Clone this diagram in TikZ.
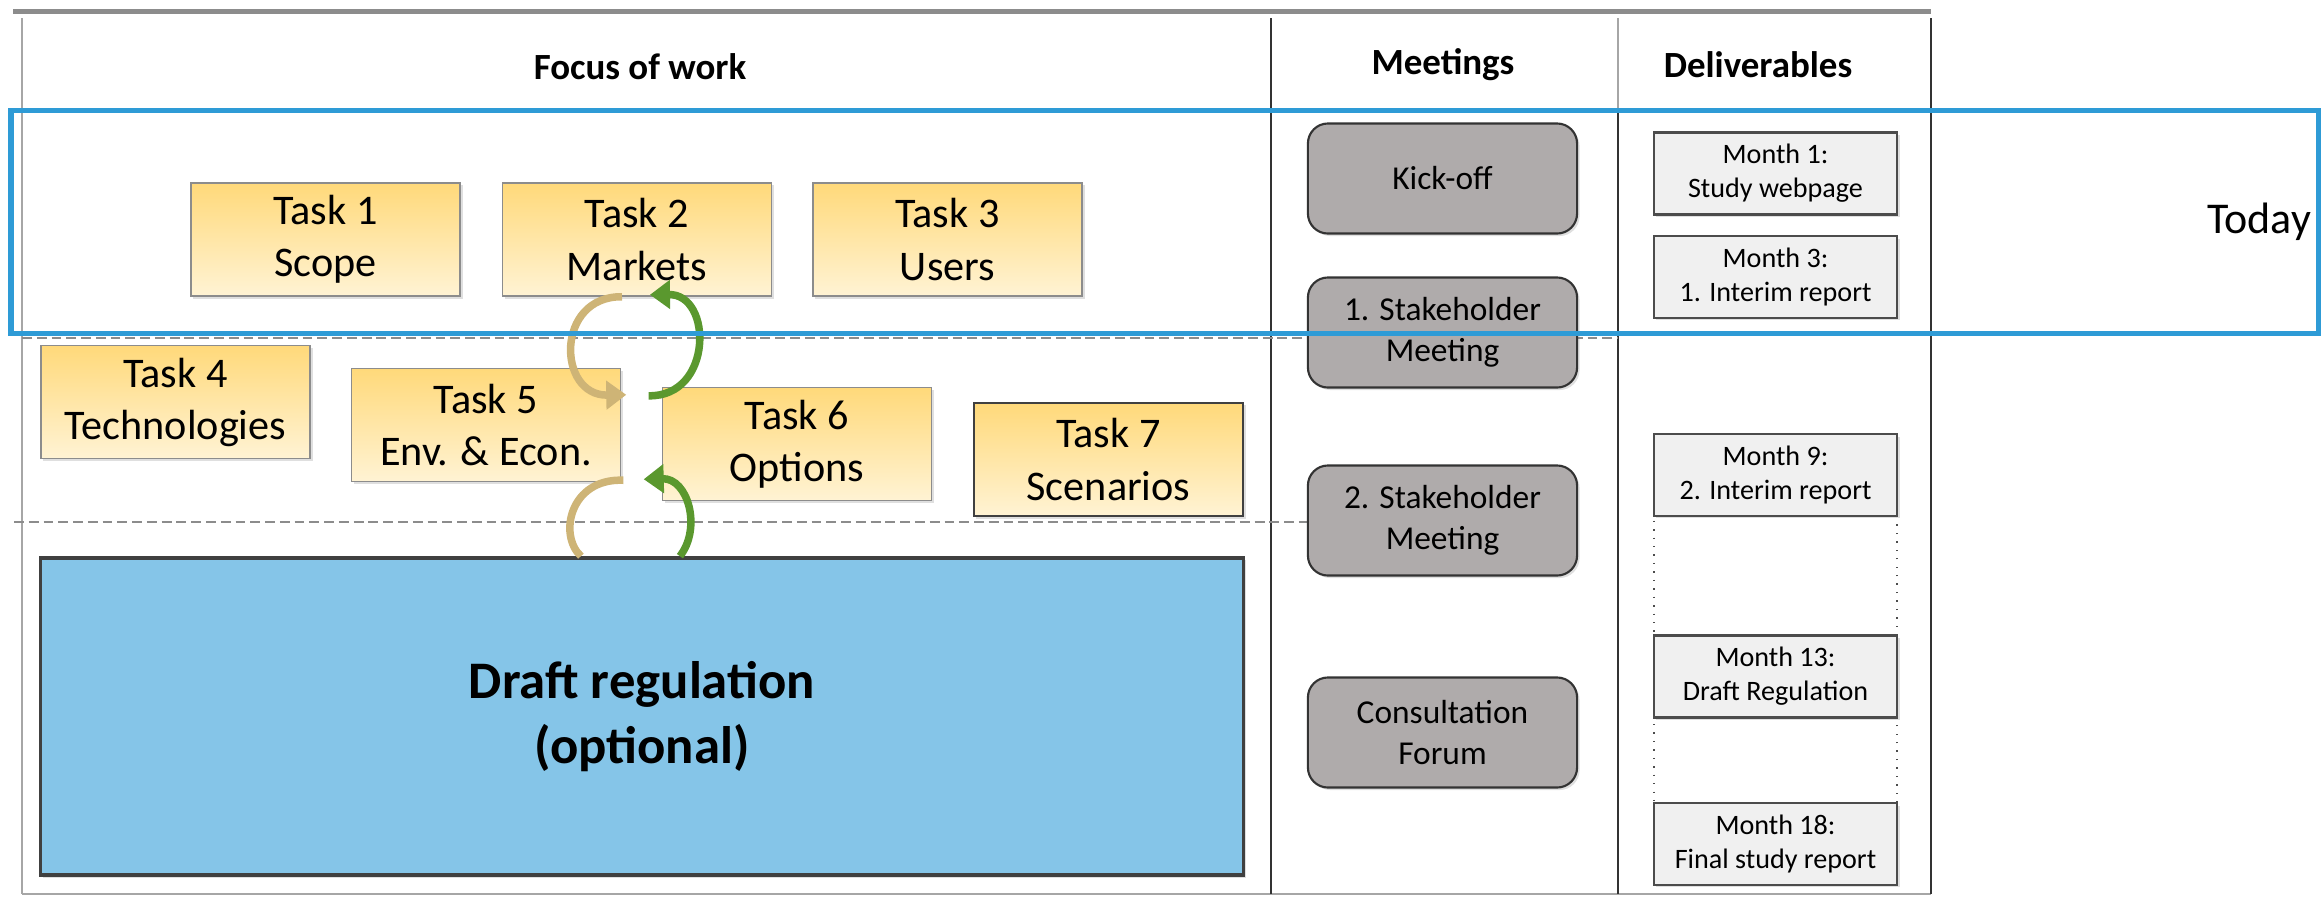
\documentclass[tikz,border=0pt]{standalone}
\usepackage{fontspec}
\setmainfont{Carlito}
\usetikzlibrary{calc,shadows,arrows.meta}
\definecolor{taskyellow}{RGB}{255,217,122}
\definecolor{tasklight}{RGB}{255,243,212}
\definecolor{meetgray}{RGB}{175,171,171}
\definecolor{delivgray}{RGB}{240,240,240}
\definecolor{draftblue}{RGB}{133,197,232}
\definecolor{todayblue}{RGB}{46,155,214}
\definecolor{loopgreen}{RGB}{90,152,46}
\definecolor{looptan}{RGB}{206,180,118}

\begin{document}
\begin{tikzpicture}[x=0.01cm, y=-0.01cm,
    softshadow/.style={drop shadow={shadow xshift=0.025cm, shadow yshift=-0.025cm, opacity=0.25}},
    taskbox/.style={draw=black!45, top color=taskyellow, bottom color=tasklight, softshadow,
      minimum width=2.69cm, minimum height=1.13cm, align=center, font=\fontsize{12}{14.8}\selectfont},
    meetbox/.style={draw=black!80, line width=0.6pt, fill=meetgray, rounded corners=0.2cm, softshadow,
      minimum width=2.69cm, minimum height=1.1cm, align=center, font=\fontsize{9.5}{11.7}\selectfont},
    delivbox/.style={draw=black!70, line width=0.6pt, fill=delivgray, softshadow,
      minimum width=2.43cm, align=center, font=\fontsize{8}{9.7}\selectfont},
    gapbox/.style={draw=black!70, dotted, fill=white, minimum width=2.43cm},
    header/.style={font=\fontsize{10.5}{12}\selectfont\bfseries},
    loop/.style={line width=0.075cm, -{Triangle[length=0.2cm, width=0.28cm]}}]
    \useasboundingbox (0,0) rectangle (2323,896);

    % Draw the table frame
    \draw[black!45, line width=0.05cm] (13,11) -- (1931,11);
    \draw[black!35, line width=0.5pt] (22,18) -- (22,894);
    \draw[black!35, line width=0.5pt] (22,894) -- (1931,894);
    \draw[black!80, line width=0.7pt] (1271,18) -- (1271,894);
    \draw[black!35, line width=0.5pt] (1618,18) -- (1618,110);
    \draw[black!80, line width=0.7pt] (1618,110) -- (1618,894);
    \draw[black!80, line width=0.7pt] (1931,18) -- (1931,894);

    % Draw the dashed separators
    \draw[black!45, dash pattern=on 2.8pt off 1.4pt] (22,338) -- (1618,338);
    \draw[black!45, dash pattern=on 2.8pt off 1.4pt] (14,522) -- (1310,522);

    % Column headers
    \node[header] (focus) at (640,67) {Focus of work};
    \node[header] (meet) at (1443,65) {Meetings};
    \node[header] (deliv) at (1758,65) {Deliverables};

    % Tasks
    \node[taskbox] (task1) at (325.5,239.5) {Task 1\\Scope};
    \node[taskbox] (task2) at (637,239.5) {Task 2\\Markets};
    \node[taskbox] (task3) at (947.5,239.5) {Task 3\\Users};
    \node[taskbox] (task4) at (175.5,402) {Task 4\\Technologies};
    \node[taskbox] (task5) at (486,425) {Task 5\\Env. \& Econ.};
    \node[taskbox] (task6) at (797,444) {Task 6\\Options};
    \node[taskbox, draw=black!75] (task7) at (1108.5,459.5) {Task 7\\Scenarios};

    % Draft regulation
    \node[draw=black!75, line width=0.035cm, fill=draftblue, softshadow, minimum width=12.02cm, minimum height=3.17cm,
      align=center, font=\fontsize{15}{18.5}\selectfont\bfseries] (draft) at (642,716.5) {Draft regulation\\(optional)};

    % Draw the loops between the tasks
    \draw[loop, looptan] ($(task2.south)+(-15,0)$) .. controls (555,296) and (557,396) .. ($(task5.north east)+(5,27)$);
    \draw[loop, loopgreen] ($(task6.north west)+(-13,9)$) .. controls (713,397) and (713,294) .. ($(task2.south)+(13,-2)$);
    \draw[looptan, line width=0.075cm] ($(task5.south east)+(2,-2)$) .. controls (570,478) and (558,535) .. ($(draft.north west)+(542,0)$);
    \draw[loop, loopgreen] ($(draft.north west)+(641,0)$) .. controls (702,528) and (688,478) .. ($(task6.south west)+(-18,-22)$);

    % Meetings
    \node[meetbox] (kickoff) at (1442.5,178.5) {Kick-off};
    \node[meetbox] (stake1) at (1442.5,332.5) {1. Stakeholder\\Meeting};
    \node[meetbox] (stake2) at (1442.5,520.5) {2. Stakeholder\\Meeting};
    \node[meetbox] (forum) at (1442.5,732.5) {Consultation\\Forum};

    % Deliverables
    \node[gapbox, minimum height=1.23cm] (gap1) at (1775.5,575.5) {};
    \node[gapbox, minimum height=0.88cm] (gap2) at (1775.5,760) {};
    \node[delivbox, minimum height=0.79cm] (month1) at (1775.5,173.5) {Month 1:\\Study webpage};
    \node[delivbox, minimum height=0.78cm] (month3) at (1775.5,277) {Month 3:\\1. Interim report};
    \node[delivbox, minimum height=0.78cm] (month9) at (1775.5,475) {Month 9:\\2. Interim report};
    \node[delivbox, minimum height=0.79cm] (month13) at (1775.5,676.5) {Month 13:\\Draft Regulation};
    \node[delivbox, minimum height=0.8cm] (month18) at (1775.5,844) {Month 18:\\Final study report};

    % Draw the today frame
    \draw[todayblue, line width=0.05cm] (11,110) rectangle (2318,333);
    \node[font=\fontsize{12.5}{14}\selectfont] (today) at (2259,222) {Today};
\end{tikzpicture}
\end{document}
